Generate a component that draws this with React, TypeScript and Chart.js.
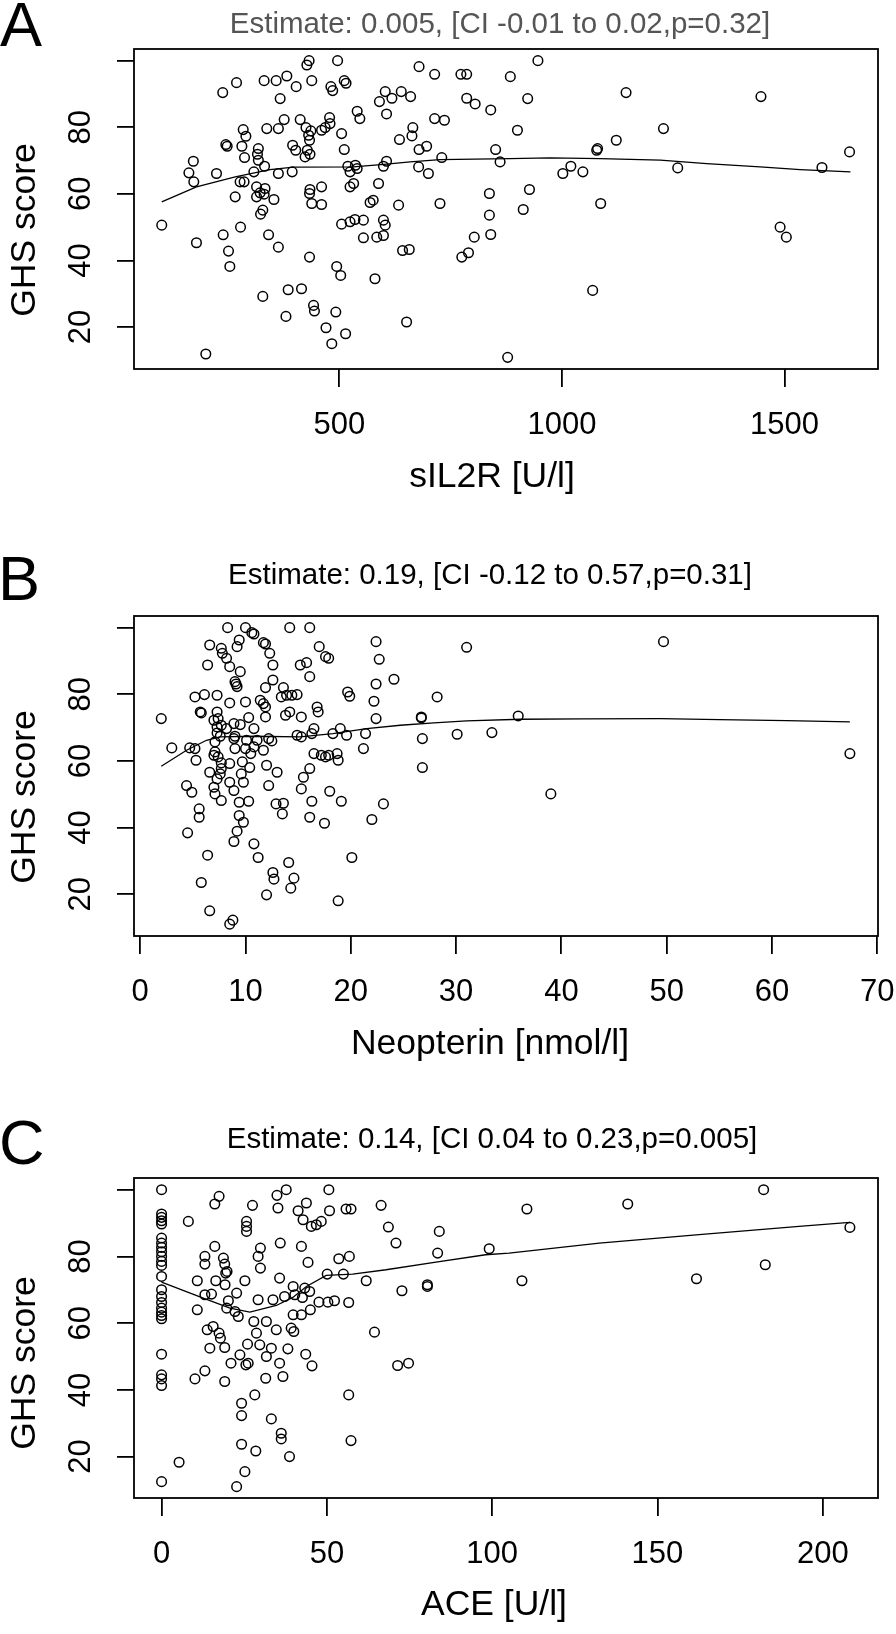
import React, { useEffect, useRef } from 'react';
import { Chart, registerables } from 'chart.js';

Chart.register(...registerables);

const FONT = "'Liberation Sans', Arial, Helvetica, sans-serif";

// ---------------- Panel A : sIL2R ----------------
const panelALetter = 'A';
const panelATitle = 'Estimate: 0.005, [CI -0.01 to 0.02,p=0.32]';
const panelAXTitle = 'sIL2R [U/l]';
const sil2rValues = [
  432, 427, 496, 679, 714, 773, 786, 269, 238, 331,
  358, 382, 403, 438, 481, 485, 511, 515, 367, 603,
  639, 660, 590, 618, 786, 805, 840, 540, 546, 606,
  714, 736, 376, 412, 478, 479, 425, 436, 460, 468,
  337, 363, 284, 290, 505, 665, 663, 635, 431, 433,
  245, 248, 281, 318, 316, 395, 402, 428, 434, 423,
  511, 679, 696, 851, 287, 730, 861, 172, 332, 318,
  519, 536, 540, 524, 606, 599, 678, 700, 162, 224,
  308, 363, 394, 173, 277, 286, 532, 524, 588, 314,
  333, 322, 434, 460, 433, 837, 266, 314, 353, 331,
  576, 569, 438, 460, 633, 726, 328, 323, 837, 101,
  278, 239, 505, 524, 535, 554, 599, 603, 554, 584,
  599, 803, 840, 179, 341, 363, 251, 254, 433, 642,
  657, 775, 790, 494, 503, 580, 328, 385, 415, 442,
  444, 380, 492, 651, 470, 514, 483, 200,
  946, 884, 1144, 1447, 923, 900, 1228, 1122, 1078, 1080,
  1020, 1002, 1047, 1260, 1584, 1646, 927, 913, 1087, 1490,
  1504, 1069, 878,
];
const sil2rGhs = [
  100, 98.7, 100, 98.2, 95.9, 95.9, 95.9, 93.4, 90.4, 94.0,
  94.0, 95.4, 92.2, 94.0, 92.2, 91.0, 94.0, 93.2, 88.6, 90.7,
  90.7, 89.2, 87.7, 88.7, 88.7, 87.0, 85.2, 84.8, 82.6, 84.0,
  82.6, 82.1, 82.3, 82.3, 82.9, 81.1, 79.9, 78.9, 79.1, 79.9,
  79.6, 79.6, 79.3, 77.3, 78.1, 79.9, 77.4, 76.3, 77.6, 76.1,
  74.8, 74.3, 74.3, 73.6, 71.9, 74.6, 73.1, 73.1, 71.9, 71.1,
  73.3, 73.3, 74.3, 73.3, 70.9, 70.9, 69.6, 69.8, 68.3, 70.1,
  68.3, 68.6, 67.6, 66.6, 69.8, 68.3, 68.1, 66.1, 66.3, 66.1,
  66.6, 66.1, 66.6, 63.6, 63.6, 63.6, 63.1, 62.1, 63.1, 62.1,
  61.6, 60.3, 61.3, 62.1, 60.1, 60.1, 59.1, 59.1, 58.3, 59.9,
  58.1, 57.4, 57.1, 56.8, 56.6, 57.1, 55.1, 53.9, 53.6, 50.6,
  50.0, 47.7, 50.9, 51.6, 52.3, 52.1, 52.1, 50.6, 46.8, 47.0,
  47.5, 47.0, 47.8, 45.3, 47.7, 44.0, 42.8, 38.2, 41.0, 43.0,
  43.3, 41.0, 42.3, 38.2, 35.5, 34.5, 29.2, 31.2, 31.5, 26.5,
  24.8, 23.2, 24.5, 21.5, 19.8, 18.0, 15.0, 11.9,
  100, 95.2, 90.4, 89.2, 88.6, 79.1, 79.6, 76.1, 73.1, 73.6,
  68.3, 66.1, 66.6, 67.8, 67.9, 72.6, 61.3, 55.3, 57.1, 50.0,
  47.0, 31.0, 10.9,
];
const sil2rSmoothX = [101, 179, 266, 344, 397, 532, 606, 659, 726, 883, 973, 1086, 1221, 1325, 1445, 1535, 1648];
const sil2rSmoothGhs = [57.6, 62.1, 65.1, 67.3, 68.0, 68.1, 68.9, 69.6, 70.3, 70.6, 70.8, 70.6, 70.1, 69.1, 68.1, 67.3, 66.6];
const sil2rTicks = [500, 1000, 1500];

// ---------------- Panel B : Neopterin ----------------
const panelBLetter = 'B';
const panelBTitle = 'Estimate: 0.19, [CI -0.12 to 0.57,p=0.31]';
const panelBXTitle = 'Neopterin [nmol/l]';
const neopterinValues = [
  8.3, 10.0, 10.6, 10.8, 14.2, 16.1, 6.6, 7.7, 7.8, 8.2,
  9.2, 9.4, 11.7, 11.9, 12.3, 12.6, 6.4, 8.5, 9.5, 9.0,
  9.1, 9.2, 15.2, 15.8, 17.6, 17.9, 17.0, 16.1, 22.4, 22.7,
  24.1, 22.4, 22.2, 22.4, 31.0, 19.7, 19.9, 28.2, 12.6, 11.9,
  13.6, 13.4, 13.9, 14.4, 14.9, 5.2, 6.1, 7.3, 8.5, 10.0,
  11.4, 11.7, 11.9, 11.9, 16.8, 16.9, 5.7, 5.8, 7.3, 7.4,
  7.7, 8.9, 9.5, 10.3, 10.8, 13.8, 14.2, 15.3, 2.0, 26.7,
  26.7, 35.9, 9.0, 10.1, 11.1, 12.2, 12.5, 7.6, 7.3, 14.9,
  15.3, 16.5, 16.3, 18.3, 19.0, 19.6, 21.4, 26.8, 30.1, 33.4,
  3.0, 4.7, 5.2, 5.3, 7.1, 7.4, 9.0, 10.5, 11.7, 16.5,
  17.2, 17.6, 17.9, 18.7, 18.8, 21.2, 8.5, 9.7, 10.4, 12.0,
  13.0, 6.6, 7.6, 7.7, 16.1, 15.5, 26.8, 9.8, 4.4, 4.9,
  7.0, 7.1, 7.7, 8.9, 9.4, 10.3, 12.2, 15.3, 18.0, 19.1,
  12.9, 13.6, 13.5, 16.3, 16.1, 17.5, 22.0, 23.1, 5.6, 5.6,
  4.5, 9.4, 9.8, 9.2, 8.9, 10.8, 11.2, 6.4, 14.1, 14.6,
  14.3, 12.6, 12.7, 20.1, 5.8, 12.0, 18.8, 6.6, 8.8, 8.5,
  49.7, 39.0, 67.4, 7.0, 7.3, 7.1, 8.2, 8.9, 7.0, 7.7,
  9.6, 7.3, 8.5, 10.0, 10.8,
];
const neopterinGhs = [
  100, 100, 98.5, 98.1, 100, 100, 94.8, 93.8, 92.3, 90.8,
  94.3, 96.3, 95.5, 95.1, 92.3, 88.8, 88.8, 88.3, 86.8, 83.8,
  83.1, 82.3, 88.8, 89.5, 91.3, 90.8, 94.3, 85.3, 95.8, 90.5,
  84.5, 83.1, 77.9, 72.7, 94.1, 80.7, 79.4, 79.2, 84.3, 82.0,
  82.0, 79.2, 79.7, 79.7, 79.9, 79.2, 79.9, 79.7, 77.4, 77.7,
  78.2, 77.2, 76.2, 73.2, 76.2, 74.7, 74.7, 74.4, 74.7, 72.7,
  70.7, 71.2, 70.9, 73.0, 69.7, 73.7, 74.7, 73.2, 72.7, 73.2,
  72.9, 73.5, 67.4, 66.2, 66.2, 66.7, 66.0, 67.4, 68.4, 67.7,
  67.2, 69.7, 68.2, 68.2, 69.7, 67.7, 68.2, 66.7, 68.0, 68.5,
  63.9, 63.9, 63.7, 60.2, 62.7, 61.2, 63.7, 62.2, 63.2, 62.2,
  61.7, 61.2, 61.7, 62.2, 60.2, 63.7, 59.2, 59.7, 58.0, 58.7,
  56.6, 56.6, 56.1, 57.7, 57.7, 55.1, 58.0, 53.6, 52.6, 50.6,
  52.1, 50.1, 48.1, 51.1, 47.6, 47.9, 52.6, 51.6, 50.9, 47.9,
  47.1, 47.3, 44.1, 47.9, 43.1, 41.3, 42.4, 47.1, 45.6, 43.1,
  38.4, 43.6, 41.6, 38.9, 35.8, 35.1, 31.0, 31.7, 29.5, 24.8,
  21.8, 26.5, 24.5, 31.0, 23.5, 19.8, 18.0, 15.0, 12.2, 11.0,
  95.8, 50.1, 62.2, 72.2, 70.2, 65.7, 69.7, 66.7, 61.7, 59.4,
  56.1, 54.6, 53.6, 63.7, 64.2,
];
const neopterinSmoothX = [2.0, 4.4, 6.3, 7.6, 10.8, 15.2, 18.3, 21.5, 24.7, 27.9, 31.0, 36.1, 42.0, 49.4, 55.0, 61.4, 67.4];
const neopterinSmoothGhs = [58.4, 63.2, 66.2, 67.2, 67.4, 67.2, 68.2, 69.7, 70.7, 71.4, 72.0, 72.5, 72.6, 72.7, 72.4, 72.1, 71.7];
const neopterinTicks = [0, 10, 20, 30, 40, 50, 60, 70];

// ---------------- Panel C : ACE ----------------
const panelCLetter = 'C';
const panelCTitle = 'Estimate: 0.14, [CI 0.04 to 0.23,p=0.005]';
const panelCXTitle = 'ACE [U/l]';
const aceValues = [
  0, 0, 0, 0, 0, 0, 0, 0, 0, 0,
  0, 0, 0, 0, 0, 0, 0, 0, 0, 0,
  0, 0, 0, 0, 0,
  8.1, 17.4, 16.1, 27.5, 34.9, 37.7, 35.2, 43.8, 41.3, 42.8,
  45.3, 46.8, 48.3, 50.8, 50.6, 55.8, 57.3, 66.4, 25.7, 25.7,
  25.7, 68.6, 70.9, 84.0, 83.5, 99.1, 16.1, 13.1, 13.1, 18.7,
  19.1, 19.8, 19.4, 29.9, 29.2, 29.9, 35.9, 42.3, 44.3, 53.6,
  56.8, 10.8, 16.4, 25.2, 19.2, 35.7, 39.8, 43.3, 50.1, 55.0,
  61.9, 72.7, 80.4, 80.4, 13.1, 15.1, 22.7, 10.8, 20.2, 19.7,
  22.2, 23.2, 29.2, 33.7, 37.2, 40.3, 42.6, 44.8, 45.0, 47.6,
  50.3, 52.3, 56.6, 39.8, 42.3, 27.9, 31.7, 34.7, 39.2, 40.0,
  13.8, 15.6, 17.4, 17.8, 28.7, 26.0, 29.7, 33.2, 31.7, 25.5,
  26.2, 14.6, 19.1, 23.7, 21.0, 35.7, 38.2, 36.7, 31.5, 43.6,
  45.5, 64.4, 71.4, 74.7, 13.1, 10.1, 19.1, 28.2, 24.2, 24.2,
  33.2, 56.6, 36.2, 36.2, 57.3, 24.2, 28.5, 38.7, 5.3, 25.2,
  22.7, 182.1, 141.0, 110.5, 208.2, 182.6, 109.0, 161.8,
];
const aceGhs = [
  100, 92.7, 91.7, 90.7, 89.7, 85.5, 84, 82.7, 81.4, 80,
  78.5, 77.3, 74, 70, 68, 66.2, 64.5, 63.3, 62.3, 61.3,
  50.7, 44.5, 43.3, 41.3, 12.5,
  90.5, 98, 95.7, 95.3, 98.3, 100, 94.5, 96, 93.7, 91,
  89, 89.5, 90.5, 93.7, 100, 94.2, 94.2, 95.3, 90.5, 89,
  87.5, 88.8, 84, 87.5, 81, 82.3, 83, 80, 77.7, 79.5,
  77.7, 75.5, 75, 82.5, 80, 76.5, 84, 83, 78.2, 79.3,
  80, 72.7, 72.7, 72.7, 71.5, 73.5, 71, 70.5, 74.7, 74.7,
  72.7, 69.7, 71.5, 71.0, 68.5, 68.7, 69, 64, 66.7, 64.5,
  63.5, 62, 67, 67, 68, 68.5, 67.7, 69.5, 64, 66.3,
  66.3, 66.7, 66.2, 62.5, 62.5, 60.5, 60.5, 58, 58.5, 57.5,
  58, 59, 57, 55.5, 57, 53.7, 53.5, 52.5, 50, 47.5,
  48, 52.5, 52.7, 50.5, 48, 48, 52.3, 44, 43.5, 50.7,
  47.2, 57.3, 47.3, 48, 45.7, 43.3, 42.5, 38.5, 36, 32.3,
  31.3, 38.5, 27, 25.3, 24.8, 23.7, 21.7, 20, 18.3, 15.5,
  11, 100, 95.7, 94.2, 88.7, 77.5, 72.7, 73.3,
];
const aceSmoothX = [0, 12.6, 20.7, 26.7, 34.7, 39.7, 43.8, 49.8, 57.8, 67.9, 83.0, 98.0, 105.1, 132.4, 162.6, 192.8, 208.2];
const aceSmoothGhs = [72.3, 67.5, 64.5, 63.3, 65.3, 67.7, 71.0, 74.3, 74.7, 76.0, 78.3, 80.5, 81.0, 84.0, 86.5, 89.0, 90.2];
const aceTicks = [0, 50, 100, 150, 200];

// ---------------- Shared y axis ----------------
const yAxisTitle = 'GHS score';
const ghsTicks = [20, 40, 60, 80, 100];
const ghsTickLabels = [20, 40, 60, 80];

type Spec = {
  key: string;
  letter: string;
  title: string;
  titleColor: string;
  xTitle: string;
  xs: number[];
  ys: number[];
  sx: number[];
  sy: number[];
  xTicks: number[];
  xMin: number;
  xMax: number;
  yMin: number;
  yMax: number;
  top: number;
  height: number;
  areaTop: number;
  areaBottom: number;
  titleX: number;
  titleBase: number;
  xTitleX: number;
  xTitleBase: number;
  yTitleY: number;
  letterX: number;
  letterBase: number;
};

const specs: Spec[] = [
  {
    key: 'A', letter: panelALetter, title: panelATitle, titleColor: '#555555', xTitle: panelAXTitle,
    xs: sil2rValues, ys: sil2rGhs, sx: sil2rSmoothX, sy: sil2rSmoothGhs, xTicks: sil2rTicks,
    xMin: 38.7, xMax: 1709.9, yMin: 7.4, yMax: 103.5,
    top: 0, height: 500, areaTop: 49, areaBottom: 369,
    titleX: 500, titleBase: 33, xTitleX: 492, xTitleBase: 487, yTitleY: 230, letterX: 0, letterBase: 46,
  },
  {
    key: 'B', letter: panelBLetter, title: panelBTitle, titleColor: '#000000', xTitle: panelBXTitle,
    xs: neopterinValues, ys: neopterinGhs, sx: neopterinSmoothX, sy: neopterinSmoothGhs, xTicks: neopterinTicks,
    xMin: -0.59, xMax: 70.07, yMin: 7.44, yMax: 103.5,
    top: 500, height: 570, areaTop: 116, areaBottom: 436,
    titleX: 490, titleBase: 84, xTitleX: 490, xTitleBase: 554, yTitleY: 297, letterX: -2, letterBase: 100,
  },
  {
    key: 'C', letter: panelCLetter, title: panelCTitle, titleColor: '#000000', xTitle: panelCXTitle,
    xs: aceValues, ys: aceGhs, sx: aceSmoothX, sy: aceSmoothGhs, xTicks: aceTicks,
    xMin: -8.34, xMax: 216.7, yMin: 7.6, yMax: 103.5,
    top: 1070, height: 564, areaTop: 108, areaBottom: 428,
    titleX: 492, titleBase: 78, xTitleX: 494, xTitleBase: 545, yTitleY: 293, letterX: -1, letterBase: 94,
  },
];

const decorPlugin = {
  id: 'panelDecor',
  afterDraw(chart: any, _args: any, opts: any) {
    const { ctx, chartArea: a } = chart;
    ctx.save();
    ctx.strokeStyle = '#000';
    ctx.lineWidth = 1.8;
    ctx.strokeRect(a.left, a.top, a.right - a.left, a.bottom - a.top);
    ctx.fillStyle = '#000';
    ctx.textBaseline = 'alphabetic';
    ctx.textAlign = 'center';
    const ys = chart.scales.y;
    ctx.font = `31px ${FONT}`;
    for (const v of opts.yLabels) {
      const py = ys.getPixelForValue(v);
      ctx.save();
      ctx.translate(90, py);
      ctx.rotate(-Math.PI / 2);
      ctx.fillText(String(v), 0, 0);
      ctx.restore();
    }
    ctx.font = `35.5px ${FONT}`;
    ctx.save();
    ctx.translate(34.5, opts.yTitleY);
    ctx.rotate(-Math.PI / 2);
    ctx.fillText(opts.yTitle, 0, 0);
    ctx.restore();
    ctx.fillText(opts.xTitle, opts.xTitleX, opts.xTitleBase);
    ctx.font = `29.5px ${FONT}`;
    ctx.fillStyle = opts.titleColor;
    ctx.fillText(opts.title, opts.titleX, opts.titleBase);
    ctx.font = `63px ${FONT}`;
    ctx.fillStyle = '#000';
    ctx.textAlign = 'left';
    ctx.fillText(opts.letter, opts.letterX, opts.letterBase);
    ctx.restore();
  },
};

function Panel({ spec }: { spec: Spec }) {
  const ref = useRef<HTMLCanvasElement | null>(null);
  useEffect(() => {
    if (!ref.current) return;
    const points = spec.xs.map((x, i) => ({ x, y: spec.ys[i] }));
    const smooth = spec.sx.map((x, i) => ({ x, y: spec.sy[i] }));
    const chart = new Chart(ref.current, {
      type: 'scatter',
      data: {
        datasets: [
          {
            data: points,
            pointStyle: 'circle',
            pointRadius: 4.8,
            pointHoverRadius: 4.8,
            borderColor: '#000',
            backgroundColor: 'rgba(0,0,0,0)',
            borderWidth: 1.5,
            showLine: false,
          } as any,
          {
            type: 'line',
            data: smooth,
            borderColor: '#000',
            borderWidth: 1.3,
            pointRadius: 0,
            fill: false,
            tension: 0,
          } as any,
        ],
      },
      options: {
        animation: false,
        responsive: false,
        devicePixelRatio: 1,
        events: [],
        layout: { padding: { top: spec.areaTop, left: 0, right: 18, bottom: 0 } },
        plugins: {
          legend: { display: false },
          title: { display: false },
          tooltip: { enabled: false },
          panelDecor: {
            letter: spec.letter,
            letterX: spec.letterX,
            letterBase: spec.letterBase,
            title: spec.title,
            titleColor: spec.titleColor,
            titleX: spec.titleX,
            titleBase: spec.titleBase,
            xTitle: spec.xTitle,
            xTitleX: spec.xTitleX,
            xTitleBase: spec.xTitleBase,
            yTitle: yAxisTitle,
            yTitleY: spec.yTitleY,
            yLabels: ghsTickLabels,
          },
        } as any,
        scales: {
          x: {
            type: 'linear',
            min: spec.xMin,
            max: spec.xMax,
            afterBuildTicks: (s: any) => {
              s.ticks = spec.xTicks.map((v) => ({ value: v }));
            },
            afterFit: (s: any) => {
              s.height = spec.height - spec.areaBottom;
            },
            grid: {
              display: true,
              drawOnChartArea: false,
              drawTicks: true,
              tickLength: 18,
              color: '#000',
              lineWidth: 1.8,
            },
            border: { display: false },
            ticks: {
              color: '#000',
              padding: 0,
              autoSkip: false,
              maxRotation: 0,
              minRotation: 0,
              font: { family: FONT, size: 31, lineHeight: 2.45 },
              callback: (v: any) => String(v),
            },
          },
          y: {
            type: 'linear',
            min: spec.yMin,
            max: spec.yMax,
            afterBuildTicks: (s: any) => {
              s.ticks = ghsTicks.map((v) => ({ value: v }));
            },
            afterFit: (s: any) => {
              s.width = 134;
            },
            grid: {
              display: true,
              drawOnChartArea: false,
              drawTicks: true,
              tickLength: 17,
              color: '#000',
              lineWidth: 1.8,
            },
            border: { display: false },
            ticks: { display: false },
          },
        },
      } as any,
      plugins: [decorPlugin as any],
    });
    return () => chart.destroy();
  }, [spec]);
  return (
    <canvas
      ref={ref}
      width={896}
      height={spec.height}
      style={{ position: 'absolute', left: 0, top: spec.top, width: 896, height: spec.height }}
    />
  );
}

export default function App() {
  return (
    <div style={{ position: 'absolute', left: 0, top: 0, width: 896, height: 1634, background: '#fff', overflow: 'hidden' }}>
      {specs.map((s) => (
        <Panel key={s.key} spec={s} />
      ))}
    </div>
  );
}
